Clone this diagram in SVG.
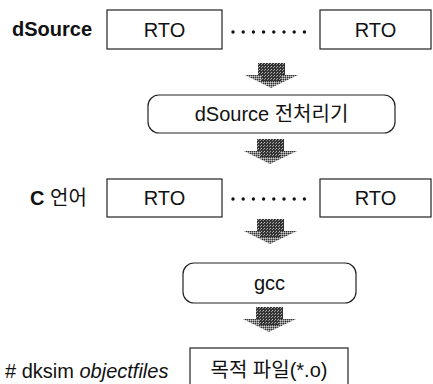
<svg xmlns="http://www.w3.org/2000/svg" width="433" height="384" viewBox="0 0 433 384">
<style>
.box{fill:#fff;stroke:#222;stroke-width:1.2}
.t{font-family:"Liberation Sans","Noto Sans CJK KR",Arial,sans-serif;font-size:20px;fill:#111;text-anchor:middle;dominant-baseline:central}
.lbl{font-family:"Liberation Sans","Noto Sans CJK KR",Arial,sans-serif;font-size:20px;fill:#111;dominant-baseline:central}
.dots{stroke:#111;stroke-width:3.4;stroke-linecap:round;stroke-dasharray:0 10.2}
.shaft{fill:url(#dark)}
.head{fill:url(#light)}
</style>
<defs>
<pattern id="dark" width="3" height="3" patternUnits="userSpaceOnUse">
<rect width="3" height="3" fill="#333"/>
<rect x="0" y="0" width="1" height="1" fill="#bbb"/>
<rect x="2" y="1" width="1" height="1" fill="#999"/>
</pattern>
<pattern id="light" width="2" height="2" patternUnits="userSpaceOnUse">
<rect width="2" height="2" fill="#888"/>
<rect x="0" y="0" width="1" height="1" fill="#333"/>
<rect x="1" y="1" width="1" height="1" fill="#ccc"/>
</pattern>
<g id="arrowShape">
<rect class="shaft" x="-13" y="0" width="27" height="12"/>
<polygon class="head" points="-26,12 27,12 0,25"/>
<rect class="shaft" x="-10" y="12" width="20" height="6"/>
</g>
</defs>

<g id="label-dsource"><text class="lbl" x="12" y="29" font-weight="bold">dSource</text></g>
<g id="rto1"><rect class="box" x="107" y="10" width="115" height="39"/><text class="t" x="164.5" y="30">RTO</text></g>
<g id="rto2"><rect class="box" x="320" y="10" width="111" height="39"/><text class="t" x="375.5" y="30">RTO</text></g>

<g id="pre"><rect class="box" x="148" y="95" width="247" height="38" rx="11"/><text class="t" x="271.5" y="114">dSource 전처리기</text></g>

<g id="label-c"><text class="lbl" x="30" y="198"><tspan font-weight="bold">C</tspan> 언어</text></g>
<g id="rto3"><rect class="box" x="107" y="179" width="115" height="38"/><text class="t" x="164.5" y="198">RTO</text></g>
<g id="rto4"><rect class="box" x="320" y="179" width="111" height="38"/><text class="t" x="375.5" y="198">RTO</text></g>

<g id="gcc"><rect class="box" x="183" y="263" width="173" height="40" rx="11"/><text class="t" x="269.5" y="283">gcc</text></g>

<g id="label-obj"><text class="lbl" x="5" y="371"># dksim <tspan font-style="italic">objectfiles</tspan></text></g>
<g id="objfile"><rect class="box" x="190" y="348" width="158" height="40"/><text class="t" x="269" y="370">목적 파일(*.o)</text></g>

<g id="connectors">
<line class="dots" x1="233" y1="32" x2="305" y2="32"/>
<line class="dots" x1="233" y1="199" x2="305" y2="199"/>
<use href="#arrowShape" x="271" y="63"/>
<use href="#arrowShape" x="270" y="139"/>
<use href="#arrowShape" x="270" y="219"/>
<use href="#arrowShape" x="269" y="307"/>
</g>
</svg>
